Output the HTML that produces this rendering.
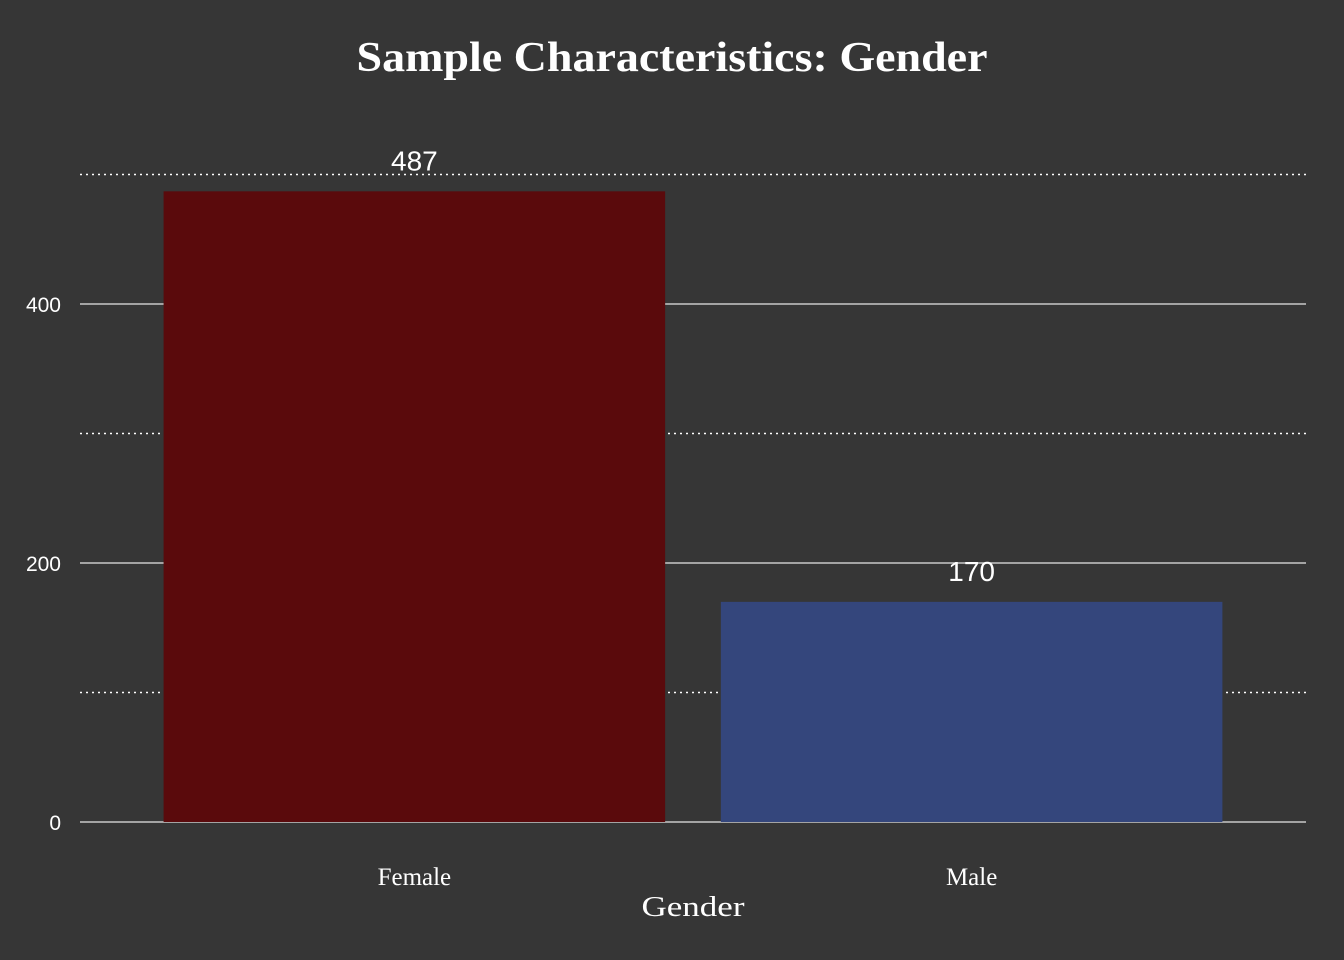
<!DOCTYPE html>
<html><head><meta charset="utf-8"><style>
html,body{margin:0;padding:0;background:#363636;}
svg{display:block;}
</style></head><body>
<svg id="chart" width="1344" height="960" xmlns="http://www.w3.org/2000/svg">
<rect x="0" y="0" width="1344" height="960" fill="#363636"/>
<text x="672" y="71" text-anchor="middle" textLength="631" lengthAdjust="spacingAndGlyphs" font-family="'Liberation Serif', serif" font-weight="bold" font-size="42" fill="#ffffff">Sample Characteristics: Gender</text>
<g id="grid"></g>
<g id="bars"></g>
<g id="labels"></g>
<text x="693" y="916" text-anchor="middle" textLength="103" lengthAdjust="spacingAndGlyphs" font-family="'Liberation Serif', serif" font-size="28" fill="#ffffff">Gender</text>
</svg>
<script>
const categories = ["Female", "Male"];
const counts = [487, 170];
const barColors = ["#5a0a0c", "#34467c"];
const majorTicks = [0, 200, 400];
const minorTicks = [100, 300, 500];

const NS = "http://www.w3.org/2000/svg";
const plotL = 80, plotR = 1306, y0px = 822, pxPerUnit = 259 / 200;
const yScale = v => y0px - v * pxPerUnit;
const unit = (plotR - plotL) / (categories.length + 0.2);
const xCenter = i => plotL + (0.6 + i) * unit;
const barW = 0.9 * unit;

function mk(tag, attrs, parent) {
  const el = document.createElementNS(NS, tag);
  for (const k in attrs) el.setAttribute(k, attrs[k]);
  parent.appendChild(el);
  return el;
}
const grid = document.getElementById("grid");
const bars = document.getElementById("bars");
const labels = document.getElementById("labels");

minorTicks.forEach(t => {
  const l = mk("line", {x1: plotL, x2: plotR, y1: yScale(t), y2: yScale(t), stroke: "#ffffff", "stroke-width": 1.5, "stroke-dasharray": "2,4"}, grid);
  
  
});
majorTicks.forEach(t => {
  const l = mk("line", {x1: plotL, x2: plotR, y1: yScale(t), y2: yScale(t), stroke: "#c8c8c8", "stroke-width": 1.5}, grid);
  
  
  const tx = mk("text", {x: 61, y: yScale(t) + 8, "text-anchor": "end", "font-family": "'Liberation Sans', sans-serif", "font-size": 21, fill: "#ffffff"}, grid);
  tx.textContent = t;
  
  
});
categories.forEach((c, i) => {
  const cx = xCenter(i);
  const r = mk("rect", {x: cx - barW / 2, y: yScale(counts[i]), width: barW, height: y0px - yScale(counts[i]), fill: barColors[i]}, bars);
  
  
  const v = mk("text", {x: cx, y: yScale(counts[i]) - 21, "text-anchor": "middle", "font-family": "'Liberation Sans', sans-serif", "font-size": 28, fill: "#ffffff"}, labels);
  v.textContent = counts[i];
  
  
  const xl = mk("text", {x: cx, y: 885, "text-anchor": "middle", "font-family": "'Liberation Serif', serif", "font-size": 25, fill: "#ffffff"}, labels);
  xl.textContent = c;
  
  
});
</script>
</body></html>
